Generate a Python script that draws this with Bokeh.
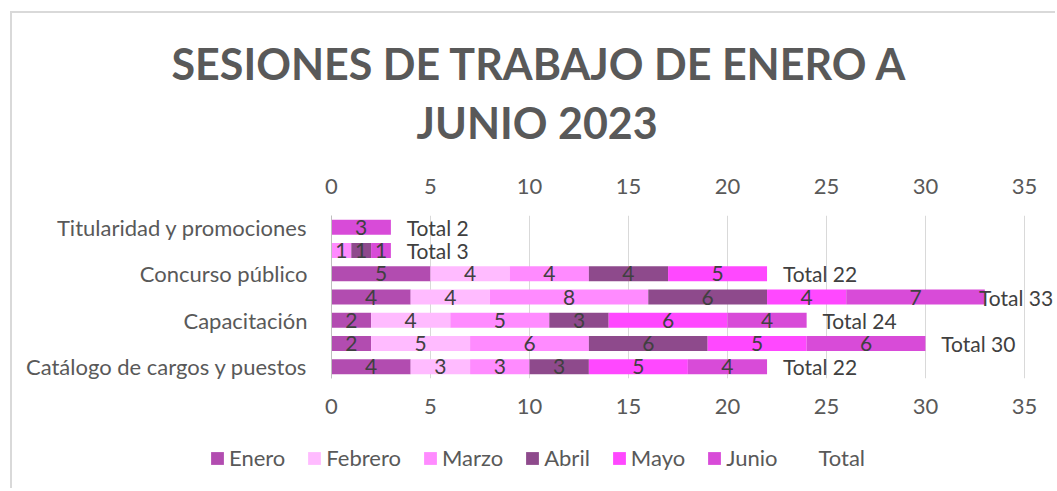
import numpy as np
from bokeh.plotting import figure
from bokeh.models import (Range1d, LinearAxis, FixedTicker, Title, Legend, LegendItem,
                          ColumnDataSource)
from bokeh.core.properties import value
from bokeh.embed import file_html
from bokeh.resources import INLINE

# ---------------- data ----------------
categories = ["Titularidad y promociones", "", "Concurso público", "", "Capacitación", "",
              "Catálogo de cargos y puestos"]
months = ["Enero", "Febrero", "Marzo", "Abril", "Mayo", "Junio"]
enero = [0, 0, 5, 4, 2, 2, 4]
febrero = [0, 0, 4, 4, 4, 5, 3]
marzo = [0, 1, 4, 8, 5, 6, 3]
abril = [0, 1, 4, 6, 3, 6, 3]
mayo = [0, 0, 5, 4, 6, 5, 5]
junio = [3, 1, 0, 7, 4, 6, 4]
totals = [2, 3, 22, 33, 24, 30, 22]
x_ticks = [0, 5, 10, 15, 20, 25, 30, 35]

colors = ["#B24CB0", "#FFBBFF", "#FF8BFF", "#8E4A8C", "#FF48FF", "#D84BD8"]
FONT = "Lato"
GRAY = "#595959"
LABEL = "#404040"
FS = "22px"
BORDER = "2px solid #d9d9d9"

series = [enero, febrero, marzo, abril, mayo, junio]
rows = list(range(1, len(categories) + 1))

W = 1045
p = figure(width=W, height=430, output_backend="svg", toolbar_location=None,
           x_range=Range1d(0, 36.57), y_range=Range1d(7.5, 0.5),
           x_axis_location=None, min_border_left=319, min_border_right=2,
           min_border_top=202, min_border_bottom=65, outline_line_color=None,
           background_fill_color="white", border_fill_color="white")
p.margin = (11, 0, 0, 10)
p.styles = {"border-left": BORDER, "border-top": BORDER}

# stacked bars
vals = np.array(series, dtype=float)
cum = np.cumsum(vals, axis=0)
sources = []
for i, m in enumerate(months):
    left = cum[i] - vals[i]
    src = ColumnDataSource(dict(y=rows, left=left, right=cum[i], v=vals[i]))
    sources.append(src)
    p.hbar(y="y", left="left", right="right", height=0.645, source=src,
           fill_color=colors[i], line_color=None)
    mask = vals[i] > 0
    lsrc = ColumnDataSource(dict(x=(left + vals[i] / 2)[mask], y=np.array(rows)[mask],
                                 t=[str(int(v)) for v in vals[i][mask]]))
    p.text(x="x", y="y", text="t", source=lsrc, text_align="center", text_baseline="middle",
           text_font=value(FONT), text_font_size="21px", text_color=LABEL)

# total labels (placed after the stacked bars)
sums = cum[-1]
tot_src = ColumnDataSource(dict(y=rows, left=sums, right=sums + np.array(totals)))
tx = [s + (0.8 if s + 4.2 < 35 else -0.3) for s in sums]
p.text(x=tx, y=rows, text=[f"Total {t}" for t in totals], text_align="left",
       text_baseline="middle", text_font=value(FONT), text_font_size="21px",
       text_color=LABEL)

# grid
p.xgrid.ticker = FixedTicker(ticks=x_ticks)
p.xgrid.grid_line_color = "#d9d9d9"
p.ygrid.grid_line_color = None

# y axis
ya = p.yaxis[0]
ya.ticker = FixedTicker(ticks=[1, 3, 5, 7])
ya.major_label_overrides = {r: categories[r - 1] for r in [1, 3, 5, 7]}
ya.major_tick_line_color = None
ya.minor_tick_line_color = None
ya.axis_line_color = "#bfbfbf"
ya.major_label_standoff = 18
ya.major_label_text_font = FONT
ya.major_label_text_font_size = FS
ya.major_label_text_color = GRAY

def make_xaxis(standoff):
    ax = LinearAxis(ticker=FixedTicker(ticks=x_ticks))
    ax.axis_line_color = None
    ax.major_tick_line_color = None
    ax.minor_tick_line_color = None
    ax.major_label_standoff = standoff
    ax.major_label_text_font = FONT
    ax.major_label_text_font_size = FS
    ax.major_label_text_color = GRAY
    return ax

p.add_layout(make_xaxis(14), "below")
p.add_layout(make_xaxis(16), "above")

t2 = Title(text="JUNIO 2023", align="left", offset=85, standoff=56,
           text_font=FONT, text_font_size="43px", text_font_style="bold", text_color=GRAY)
t1 = Title(text="SESIONES DE TRABAJO DE ENERO A", align="left", offset=-160, standoff=-44,
           text_font=FONT, text_font_size="43px", text_font_style="bold", text_color=GRAY)
p.add_layout(t2, "above")
p.add_layout(t1, "above")

# ---------------- legend strip ----------------
lf = figure(width=W, height=47, output_backend="svg", toolbar_location=None,
            x_range=Range1d(0, 36.57), y_range=Range1d(7.5, 0.5),
            x_axis_location=None, y_axis_location=None, min_border=0,
            outline_line_color=None, background_fill_color="white",
            border_fill_color="white")
lf.margin = (0, 0, 0, 10)
lf.styles = {"border-left": BORDER}
lf.xgrid.grid_line_color = None
lf.ygrid.grid_line_color = None
leg_renderers = []
for i, m in enumerate(months):
    r = lf.hbar(y="y", left="left", right="right", height=0.645, source=sources[i],
                fill_color=colors[i], line_color=None)
    r.visible = False
    leg_renderers.append(r)
tot_r = lf.hbar(y="y", left="left", right="right", height=0.645, source=tot_src,
                fill_alpha=0, line_alpha=0)
tot_r.visible = False

items = [LegendItem(label=m, renderers=[leg_renderers[i]]) for i, m in enumerate(months)]
items.append(LegendItem(label="Total", renderers=[tot_r]))
legend = Legend(items=items, orientation="horizontal", location=(197, 17),
                glyph_width=16, glyph_height=16, label_standoff=4, spacing=21,
                padding=0, margin=0, border_line_color=None, background_fill_alpha=0,
                label_text_font=FONT, label_text_font_size=FS, label_text_color=GRAY)
lf.add_layout(legend, "center")

open("out.html", "w").write(file_html([p, lf], INLINE))
